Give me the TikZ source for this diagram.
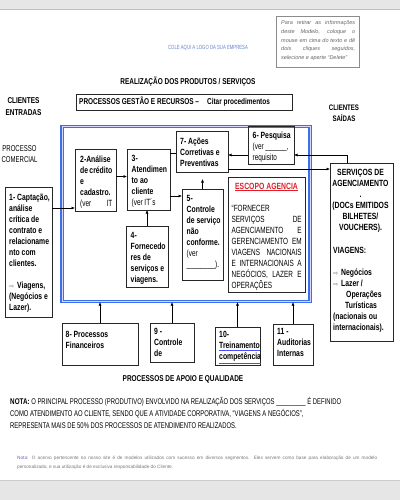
\documentclass[tikz,border=0pt]{standalone}
\usepackage{fontspec}
\setmainfont{Liberation Sans}
\newfontfamily\narr[FakeStretch=0.71]{Liberation Sans}
\newfontfamily\narb[FakeStretch=0.76,UprightFont={* Bold}]{Liberation Sans}
\newfontfamily\symf{DejaVu Sans}
\usetikzlibrary{arrows.meta}
\definecolor{frameblue}{RGB}{60,110,240}
\definecolor{bandgrey}{RGB}{230,230,230}
\definecolor{logoblue}{RGB}{100,130,210}
\definecolor{notegrey}{RGB}{120,120,120}
\definecolor{escred}{RGB}{225,30,40}
\newcommand{\harr}{{\symf\fontsize{6}{11}\selectfont\color{black!60}⇨}\hspace{3pt}}
\begin{document}
\begin{tikzpicture}[x=1pt,y=-1pt,
  box/.style={draw=black!85,line width=0.8pt,anchor=north west,inner sep=0pt,outer sep=0pt},
  bt/.style={anchor=north west,inner sep=0pt,align=left,font=\narb\fontsize{9}{11}\selectfont},
  rt/.style={anchor=north west,inner sep=0pt,align=left,font=\narr\fontsize{9}{11}\selectfont},
  arr/.style={line width=0.6pt,-{Latex[length=3.5pt,width=3pt]}},
  ln/.style={line width=0.6pt},
  lbl/.style={inner sep=0pt,align=center,font=\narb\fontsize{8.5}{12}\selectfont}]
\useasboundingbox (0,0) rectangle (400,500);
\fill[white] (0,0) rectangle (400,500);
% grey bands
\fill[bandgrey] (0,0) rectangle (400,9);
\draw[black!25,line width=0.6pt] (0,9.3) -- (400,9.3);
\fill[bandgrey] (0,481) rectangle (400,500);
\draw[black!20,line width=0.6pt] (0,480.7) -- (400,480.7);

% info box
\node[draw=black!45,line width=0.6pt,minimum width=83pt,minimum height=51pt,anchor=north west,inner sep=0pt] (info) at (276,16) {};
\node[anchor=north west,inner sep=0pt,align=left,text=black!60,font=\itshape\fontsize{5.5}{8.7}\selectfont] (infot) at ([shift={(5,4.5)}]info.north west)
 {\makebox[74pt][s]{Para retirar as informações}\\
  \makebox[74pt][s]{deste Modelo, coloque o}\\
  \makebox[74pt][s]{mouse em cima do texto e dê}\\
  \makebox[74pt][s]{dois cliques seguidos,}\\
  selecione e aperte “Delete”};

% logo placeholder
\node[inner sep=0pt,text=logoblue,font=\narr\fontsize{6}{7}\selectfont] (logo) at (208,48) {COLE AQUI A LOGO DA SUA EMPRESA};

% titles
\node[lbl] (title) at (188,82) {REALIZAÇÃO DOS PRODUTOS / SERVIÇOS};
\node[lbl] (cin) at (23.5,107) {CLIENTES\\ENTRADAS};
\node[lbl,font=\narb\fontsize{8}{10.5}\selectfont] (cout) at (344,113) {CLIENTES\\SAÍDAS};
\node[lbl,font=\narr\fontsize{8.5}{11.5}\selectfont] (pc) at (19.5,154) {PROCESSO\\COMERCIAL};

% header box
\node[box,minimum width=216pt,minimum height=16pt] (hdr) at (76,94) {};
\node[anchor=west,inner sep=0pt,font=\narb\fontsize{8.5}{10}\selectfont] (hdrt) at ([shift={(3,0)}]hdr.west) {PROCESSOS GESTÃO E RECURSOS –\hspace{8pt}Citar procedimentos};

% blue frame
\node[draw=frameblue,double=blue!15,double distance=1pt,line width=1.1pt,minimum width=248pt,minimum height=175pt,inner sep=0pt] (frame) at (186,214) {};

% boxes
\node[box,minimum width=47pt,minimum height=130pt] (b1) at (5,187) {};
\node[box,minimum width=41pt,minimum height=62pt] (b2) at (75,149) {};
\node[box,minimum width=43pt,minimum height=61pt] (b3) at (127,149) {};
\node[box,minimum width=42pt,minimum height=61pt] (b4) at (126,226) {};
\node[box,minimum width=41pt,minimum height=91pt] (b5) at (182,189) {};
\node[box,minimum width=52pt,minimum height=41pt] (b7) at (176,131) {};
\node[box,minimum width=46pt,minimum height=38pt] (b6) at (248,126) {};
\node[box,minimum width=77pt,minimum height=115pt] (esc) at (228,177) {};
\node[box,minimum width=63pt,minimum height=178pt] (serv) at (330,163) {};
\node[box,minimum width=76pt,minimum height=42pt] (b8) at (62,323) {};
\node[box,minimum width=44pt,minimum height=39pt] (b9) at (150,323) {};
\node[box,minimum width=45pt,minimum height=38pt] (b10) at (215,327) {};
\node[box,minimum width=40pt,minimum height=41pt] (b11) at (273,324) {};

% box texts
\node[bt] (t1) at ([shift={(4,6.5)}]b1.north west)
 {1- Captação,\\análise\\crítica de\\contrato e\\relacioname\\nto com\\clientes.\\[11pt]\harr Viagens,\\(Negócios e\\Lazer).};
\node[bt] (t2) at ([shift={(5,6.5)}]b2.north west)
 {2-Análise\\\makebox[32pt][s]{de crédito}\\e\\cadastro.\\{\narr\makebox[32pt][s]{(ver IT}}};
\node[bt] (t3) at ([shift={(4.5,6.5)}]b3.north west)
 {3-\\Atendimen\\to ao\\cliente\\{\narr (ver IT´s}};
\node[bt] (t4) at ([shift={(4.5,6.5)}]b4.north west)
 {4-\\Fornecedo\\res de\\serviços e\\viagens.};
\node[bt] (t5) at ([shift={(4.5,6.5)}]b5.north west)
 {5-\\Controle\\de serviço\\não\\conforme.\\{\narr (ver}\\{\narr \_\_\_\_\_\_\_\_).}};
\node[bt] (t7) at ([shift={(4,7)}]b7.north west)
 {7- Ações\\Corretivas e\\Preventivas};
\node[bt] (t6) at ([shift={(4.5,5.5)}]b6.north west)
 {6- Pesquisa\\{\narr (ver \_\_\_\_\_\_,}\\{\narr requisito}};
\node[inner sep=0pt,font=\narb\fontsize{9}{11}\selectfont,text=escred] (esct) at ([shift={(0,10)}]esc.north) {\underline{ESCOPO AGENCIA}};
\node[rt] (escb) at ([shift={(3.5,28)}]esc.north west)
 {“FORNECER\\\makebox[70pt][s]{SERVIÇOS DE}\\\makebox[70pt][s]{AGENCIAMENTO E}\\\makebox[70pt][s]{GERENCIAMENTO EM}\\\makebox[70pt][s]{VIAGENS NACIONAIS}\\\makebox[70pt][s]{E INTERNACIONAIS A}\\\makebox[70pt][s]{NEGÓCIOS, LAZER E}\\OPERAÇÕES};
\node[bt,anchor=north,align=center] (sa) at ([shift={(-1,6.5)}]serv.north)
 {SERVIÇOS DE\\AGENCIAMENTO\\.\\(DOCs EMITIDOS\\BILHETES/\\VOUCHERS).};
\node[bt] (sb) at ([shift={(3,84.5)}]serv.north west)
 {VIAGENS:\\[11pt]\harr Negócios\\\harr Lazer /\\\hspace*{13pt}Operações\\\hspace*{12pt}Turísticas\\(nacionais ou\\internacionais).};
\node[bt] (t8) at ([shift={(3.5,8.5)}]b8.north west) {8- Processos\\Financeiros};
\node[bt] (t9) at ([shift={(4,5.5)}]b9.north west) {9 -\\Controle\\de};
\node[bt] (t10) at ([shift={(4,4.5)}]b10.north west)
 {10-\\{\color{blue!70}\underline{\color{black}Treinamento}}\\{\color{blue!70}\underline{\color{black}competência}}};
\node[bt] (t11) at ([shift={(4,4.5)}]b11.north west) {11 -\\Auditorias\\Internas};

% connectors
\coordinate (p12) at ([shift={(0,28)}]b2.west);
\draw[arr] (b1.east |- p12) -- (p12);
\coordinate (p23) at ([shift={(0,-3)}]b3.west);
\draw[arr] (b2.east |- p23) -- (p23);
\coordinate (p35) at ([shift={(0,16.5)}]b3.east);
\draw[arr] (p35) -- (p35 -| b5.west);
\draw[arr] (b4.north) -- (b4.north |- b3.south);
\draw[arr,shorten >=7pt] (b5.north) -- (b5.north |- b7.south);
\coordinate (p37) at ([shift={(0,-26.5)}]b3.east);
\draw[ln] (p37) -- (p37 -| b7.west);
\coordinate (p67) at ([shift={(0,10)}]b6.west);
\draw[arr] (p67) -- (p67 -| b7.east);
\coordinate (ps6) at ([shift={(-14.5,0)}]serv.north);
\draw[arr] (ps6) |- (p67 -| b6.east);
\coordinate (p7s) at ([shift={(0,17.5)}]b7.east);
\draw[arr] (p7s) -- (p7s -| serv.west);
\draw[arr] (b8.north) -- (b8.north |- frame.south);
\draw[arr] (b9.north) -- (b9.north |- frame.south);
\draw[arr] (b10.north) -- (b10.north |- frame.south);
\draw[arr] (b11.north) -- (b11.north |- frame.south);

% bottom texts
\node[lbl] (apoio) at (183,379) {PROCESSOS DE APOIO E QUALIDADE};
\node[anchor=north west,inner sep=0pt,align=left,font=\narr\fontsize{8.3}{12}\selectfont] (nota) at (10,397.5)
 {{\narb NOTA:} O PRINCIPAL PROCESSO (PRODUTIVO) ENVOLVIDO NA REALIZAÇÃO DOS SERVIÇOS \_\_\_\_\_\_\_\_\_ É DEFINIDO\\
  COMO ATENDIMENTO AO CLIENTE, SENDO QUE A ATIVIDADE CORPORATIVA, “VIAGENS A NEGÓCIOS”,\\
  REPRESENTA MAIS DE 50\% DOS PROCESSOS DE ATENDIMENTO REALIZADOS.};
\node[anchor=north west,inner sep=0pt,align=left,text=notegrey,font=\fontsize{4.7}{9}\selectfont] (small) at (17,456)
 {\makebox[360pt][s]{{\color{black!45!blue!60}Nota:} O acervo pertencente no nosso site é de modelos utilizados com sucesso em diversos segmentos. Eles servem como base para elaboração de um modelo}\\
  personalizado, e sua utilização é de exclusiva responsabilidade do Cliente.};
\end{tikzpicture}
\end{document}
